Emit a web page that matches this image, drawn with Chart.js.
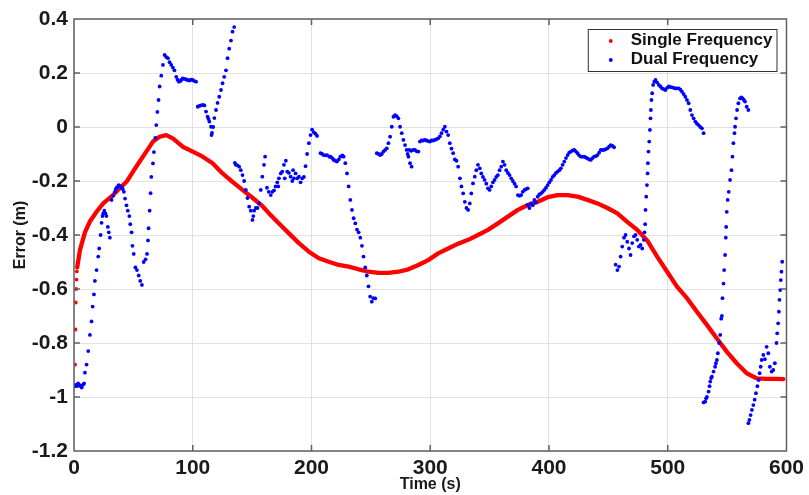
<!DOCTYPE html>
<html><head><meta charset="utf-8">
<script src="https://cdn.jsdelivr.net/npm/chart.js@4/dist/chart.umd.min.js"></script>
<style>html,body{margin:0;padding:0;background:#fff;} canvas{display:block;}</style>
</head><body>
<canvas id="c" width="809" height="495" style="width:809px;height:495px"></canvas>
<script>
const xTicks = [0, 100, 200, 300, 400, 500, 600];
const xTickLabels = ['0', '100', '200', '300', '400', '500', '600'];
const yTicks = [-1.2, -1, -0.8, -0.6, -0.4, -0.2, 0, 0.2, 0.4];
const yTickLabels = ['-1.2', '-1', '-0.8', '-0.6', '-0.4', '-0.2', '0', '0.2', '0.4'];
const seriesNames = ['Single Frequency', 'Dual Frequency'];
const xTitle = 'Time (s)';
const yTitle = 'Error (m)';

// [time (s), error (m)]
const singleFrequency = [
  [0.9,-0.88],[1.2,-0.75],[1.5,-0.65],[1.8,-0.60],[2.1,-0.565],[2.4,-0.535],
  [2.7,-0.52],[5.0,-0.456],[9.2,-0.39],[13.4,-0.35],[19.0,-0.314],[24.6,-0.283],[32.9,-0.252],
  [38.5,-0.227],[44.2,-0.203],[49.7,-0.165],[55.3,-0.128],[60.9,-0.091],[66.5,-0.054],[72.1,-0.036],
  [77.7,-0.03],[83.2,-0.042],[91.6,-0.073],[100,-0.091],[108.4,-0.11],[116.7,-0.134],[125.1,-0.172],
  [133.5,-0.203],[141.9,-0.233],[150.3,-0.262],[158,-0.29],[164.3,-0.32],[172.6,-0.357],[181,-0.394],
  [189.4,-0.43],[197.8,-0.462],[206.2,-0.486],[214.5,-0.499],[222.9,-0.511],[231.3,-0.517],[239.7,-0.527],
  [248,-0.536],[256.4,-0.54],[264.8,-0.54],[273.2,-0.536],[281.6,-0.527],[290,-0.511],[298.3,-0.493],
  [306.7,-0.468],[315.1,-0.45],[323.5,-0.432],[331.9,-0.418],[340.2,-0.40],[348.6,-0.381],[357,-0.357],
  [365.4,-0.332],[373.8,-0.307],[382.1,-0.289],[390.5,-0.277],[398.9,-0.26],[407.3,-0.252],[415.7,-0.252],
  [424,-0.258],[432.4,-0.27],[440.8,-0.283],[449.2,-0.30],[457.6,-0.32],[465.9,-0.351],[474.3,-0.381],
  [482.7,-0.42],[491.1,-0.48],[499.5,-0.536],[507.8,-0.591],[516.2,-0.634],[524.6,-0.684],[533,-0.733],
  [541.4,-0.783],[549.7,-0.832],[558.1,-0.875],[566.5,-0.912],[574.9,-0.931],[583.3,-0.933],[591.6,-0.933],
  [597.3,-0.934]
];
const singleDotCount = 6;

const dualFrequency = [
  [0.5,-0.96],[1.5,-0.955],[2.5,-0.96],[3.5,-0.95],[4.5,-0.955],[5.5,-0.96],[6.5,-0.965],[7.5,-0.955],[8.5,-0.95],
  [9.2,-0.91],[10.6,-0.88],[12.0,-0.83],[13.4,-0.77],[14.8,-0.72],[15.7,-0.665],[16.8,-0.62],[17.6,-0.57],
  [19.0,-0.53],[20.4,-0.48],[21.2,-0.45],[22.4,-0.40],[23.2,-0.355],[24.0,-0.33],[24.6,-0.32],[25.5,-0.31],
  [26.5,-0.32],[27.3,-0.33],[28.5,-0.37],[29.3,-0.39],[30.2,-0.41],
  [31.6,-0.27],[33.0,-0.255],[34.4,-0.24],[35.2,-0.23],[36.0,-0.225],[37.0,-0.22],[37.7,-0.215],[38.5,-0.22],
  [39.4,-0.22],[40.2,-0.225],[41.1,-0.23],[42.0,-0.24],[43.0,-0.265],[44.2,-0.29],[45.3,-0.31],[46.6,-0.33],
  [47.4,-0.36],[48.5,-0.39],[49.2,-0.44],[50.3,-0.47],[51.7,-0.52],[53.0,-0.53],[54.5,-0.55],[55.8,-0.57],
  [57.2,-0.585],[58.7,-0.50],[60.3,-0.49],[61.5,-0.47],[62.3,-0.42],[62.8,-0.375],[63.7,-0.31],[64.5,-0.245],
  [65.1,-0.185],[66.5,-0.135],[67.3,-0.093],[68.5,-0.04],[69.3,0.007],[70.2,0.056],[71.2,0.10],[72.1,0.15],
  [73.5,0.19],[74.9,0.23],[76.3,0.267],[77.5,0.26],[79.1,0.255],[80.5,0.24],[81.9,0.23],[83.3,0.22],[84.6,0.21],
  [86.1,0.186],[87.2,0.175],[88.3,0.168],[89.5,0.17],[90.5,0.175],[91.6,0.18],[93.0,0.178],[94.5,0.176],
  [95.8,0.174],[97.0,0.172],[98.5,0.175],[100.0,0.174],[101.5,0.17],[102.8,0.168],
  [104.2,0.075],[105.5,0.078],[107.0,0.08],[108.5,0.082],[109.8,0.08],[111.2,0.057],[112.5,0.038],[113.3,0.03],
  [114.0,0.02],[115.4,0.001],[115.8,-0.03],[116.2,-0.022],[117.2,0.0],[118.2,0.033],[119.6,0.063],[120.9,0.089],
  [122.3,0.112],[123.8,0.137],[125.1,0.162],[126.5,0.186],[128.0,0.21],[129.3,0.255],[130.7,0.29],[132.2,0.32],
  [133.5,0.353],[134.9,0.37],
  [135.5,-0.133],[136.3,-0.14],[137.7,-0.142],[139.1,-0.147],[140.5,-0.16],[141.9,-0.178],[143.3,-0.2],
  [144.7,-0.233],[146.1,-0.263],[147.5,-0.295],[148.9,-0.31],[150.3,-0.344],[151.0,-0.33],[151.7,-0.31],
  [153.1,-0.30],[154.5,-0.30],[155.9,-0.283],[157.3,-0.233],[158.6,-0.184],[160.0,-0.14],[160.9,-0.11],
  [162.5,-0.225],[164.0,-0.24],[165.7,-0.252],[167.0,-0.24],[168.4,-0.235],[169.8,-0.22],[171.2,-0.205],
  [172.0,-0.22],[172.6,-0.19],[174.1,-0.172],[175.4,-0.165],[176.8,-0.14],[177.5,-0.19],[178.4,-0.125],
  [179.6,-0.165],[181.0,-0.17],[182.4,-0.184],[183.8,-0.2],[184.5,-0.16],[185.2,-0.19],[186.6,-0.172],
  [188.0,-0.19],[189.4,-0.184],[190.8,-0.205],[192.2,-0.19],[193.6,-0.185],[195.0,-0.145],[196.3,-0.1],
  [197.8,-0.06],[199.2,-0.03],[200.5,-0.01],[202.0,-0.02],[203.4,-0.025],[204.7,-0.033],
  [207.6,-0.097],[209.0,-0.1],[210.3,-0.104],[212.0,-0.105],[213.1,-0.104],[215.0,-0.11],[216.0,-0.11],
  [217.5,-0.115],[218.7,-0.122],[220.0,-0.125],[221.5,-0.128],[223.0,-0.12],[224.3,-0.11],[226.0,-0.105],
  [227.1,-0.11],[228.5,-0.134],[229.9,-0.172],[231.3,-0.22],[232.7,-0.27],[234.1,-0.307],[235.5,-0.338],
  [236.9,-0.357],[238.3,-0.38],[239.7,-0.39],[241.1,-0.41],[242.5,-0.44],[243.8,-0.48],[245.3,-0.52],
  [246.6,-0.55],[248.0,-0.59],[249.4,-0.628],[250.8,-0.647],[252.2,-0.634],[253.7,-0.635],
  [255.0,-0.097],[256.5,-0.1],[257.9,-0.104],[259.2,-0.1],[260.6,-0.091],[262.0,-0.085],[263.4,-0.079],
  [264.8,-0.06],[266.2,-0.036],[267.6,0.001],[269.0,0.038],[270.4,0.044],[271.8,0.04],[273.2,0.032],
  [274.6,0.001],[276.0,-0.023],[277.4,-0.048],[278.8,-0.067],[280.1,-0.085],[281.0,-0.1],[281.6,-0.11],
  [283.0,-0.134],[284.3,-0.147],
  [282.5,-0.085],[284.0,-0.088],[285.7,-0.085],[287.2,-0.085],[288.6,-0.09],[290.0,-0.091],
  [291.3,-0.054],[292.7,-0.05],[294.1,-0.05],[295.5,-0.048],[297.0,-0.05],[298.3,-0.052],[299.7,-0.054],
  [301.1,-0.05],[302.5,-0.05],[303.9,-0.048],[305.3,-0.045],[306.7,-0.042],[308.1,-0.035],[309.5,-0.023],
  [310.9,-0.01],[312.3,0.001],[313.7,-0.017],[315.1,-0.03],[316.5,-0.06],[317.9,-0.08],[319.3,-0.097],
  [320.7,-0.12],[322.1,-0.125],[323.5,-0.147],[325.0,-0.19],[326.3,-0.22],[327.7,-0.246],[329.1,-0.277],
  [330.5,-0.30],[331.9,-0.307],[333.3,-0.283],[334.6,-0.246],[336.0,-0.209],[337.5,-0.184],[338.8,-0.16],
  [340.2,-0.14],[341.7,-0.153],[343.0,-0.172],[344.4,-0.185],[345.8,-0.196],[347.2,-0.21],[348.6,-0.227],
  [350.0,-0.233],[351.4,-0.22],[352.8,-0.205],[354.2,-0.196],[355.6,-0.185],[357.0,-0.178],[358.4,-0.16],
  [359.8,-0.147],[361.2,-0.128],[362.6,-0.14],[364.0,-0.16],[365.4,-0.17],[366.8,-0.178],[368.2,-0.19],
  [369.6,-0.2],[371.0,-0.21],[372.3,-0.22],
  [373.8,-0.252],[375.1,-0.255],[376.5,-0.252],[377.9,-0.24],[379.4,-0.233],[380.7,-0.23],[382.1,-0.227],
  [382.1,-0.289],[383.5,-0.3],[384.9,-0.283],[386.3,-0.29],[387.7,-0.27],[389.0,-0.28],[390.5,-0.258],
  [391.9,-0.25],[393.3,-0.246],[394.7,-0.24],[396.1,-0.233],[397.5,-0.225],[398.9,-0.215],[400.3,-0.205],
  [401.7,-0.196],[403.1,-0.185],[404.5,-0.178],[405.9,-0.17],[407.3,-0.165],[408.7,-0.16],[410.0,-0.153],
  [411.5,-0.14],[412.9,-0.128],[414.3,-0.115],[415.7,-0.104],[417.0,-0.095],[418.4,-0.091],[419.9,-0.087],
  [421.3,-0.085],[422.6,-0.09],[424.0,-0.097],[425.4,-0.105],[426.8,-0.11],[428.2,-0.11],[429.6,-0.11],
  [431.0,-0.113],[432.4,-0.116],[433.8,-0.12],[435.2,-0.122],[436.6,-0.115],[438.0,-0.11],[439.4,-0.108],
  [440.8,-0.104],[442.2,-0.095],[443.6,-0.085],[445.0,-0.085],[446.4,-0.085],[447.8,-0.082],[449.2,-0.079],
  [450.6,-0.073],[452.0,-0.067],[453.4,-0.07],[454.8,-0.075],
  [456.1,-0.51],[457.6,-0.53],[459.0,-0.517],[460.3,-0.48],[461.7,-0.443],[463.2,-0.41],[464.5,-0.40],
  [465.9,-0.425],[467.4,-0.45],[468.7,-0.474],[470.1,-0.43],[471.6,-0.405],[472.9,-0.40],[474.3,-0.418],
  [475.7,-0.443],[477.1,-0.437],[478.5,-0.45],[479.9,-0.418],[480.4,-0.39],[481.0,-0.36],[481.3,-0.307],
  [481.9,-0.258],[482.5,-0.215],[483.0,-0.172],[483.3,-0.134],[483.8,-0.091],[484.4,-0.054],[485.0,-0.011],
  [485.5,0.032],[485.8,0.063],[486.3,0.10],[486.9,0.125],[487.7,0.156],[488.7,0.168],[489.7,0.174],
  [491.0,0.165],[492.5,0.156],[493.9,0.15],[495.3,0.143],[496.7,0.14],[498.0,0.137],[499.5,0.145],
  [500.9,0.15],[502.3,0.148],[503.6,0.147],[505.0,0.145],[506.4,0.143],[507.8,0.143],[509.3,0.143],
  [510.7,0.138],[512.0,0.131],[513.4,0.122],[514.8,0.112],[516.2,0.1],[517.6,0.088],[519.0,0.063],
  [520.4,0.044],[521.8,0.032],[523.2,0.02],[524.6,0.012],[526.0,0.007],[527.4,0.0],[528.8,-0.005],[530.2,-0.023],
  [530.2,-1.02],[531.6,-1.017],[532.3,-1.005],[533.0,-1.0],[534.4,-0.98],[535.2,-0.96],[535.8,-0.943],
  [536.5,-0.93],[537.2,-0.925],[538.6,-0.906],[539.9,-0.888],[540.6,-0.875],[541.4,-0.863],[542.2,-0.838],
  [543.3,-0.80],[544.2,-0.77],[545.0,-0.71],[545.6,-0.70],[546.1,-0.634],[547.0,-0.58],[547.5,-0.53],
  [548.3,-0.474],[548.9,-0.41],[549.2,-0.37],[549.7,-0.314],[550.5,-0.27],[551.4,-0.24],[552.5,-0.196],
  [553.7,-0.16],[554.5,-0.11],[555.3,-0.06],[556.2,-0.023],[556.7,0.001],[557.5,0.032],[558.4,0.063],
  [559.5,0.088],[560.9,0.106],[562.0,0.11],[563.1,0.106],[564.1,0.1],[565.1,0.094],[566.5,0.075],[567.9,0.063],
  [567.9,-1.097],[568.8,-1.085],[569.8,-1.067],[570.9,-1.048],[572.1,-1.03],[573.2,-1.01],[574.3,-0.986],
  [575.5,-0.96],[576.6,-0.937],[577.4,-0.912],[578.3,-0.888],[579.1,-0.863],[580.5,-0.844],[581.8,-0.86],
  [583.3,-0.814],[584.7,-0.838],[586.0,-0.888],[587.5,-0.906],[588.9,-0.9],[590.2,-0.875],[591.6,-0.80],
  [592.2,-0.764],[593.0,-0.727],[593.6,-0.684],[594.1,-0.64],[594.7,-0.604],[595.2,-0.567],[595.8,-0.536],
  [596.4,-0.499]
];

const FONT = '"Liberation Sans", Arial, Helvetica, sans-serif';
Chart.defaults.font.family = FONT;
const toPoints = arr => arr.map(p => ({ x: p[0], y: p[1] }));

const framePlugin = {
  id: 'frameAndLegend',
  afterDraw(chart) {
    const ctx = chart.ctx, ca = chart.chartArea;
    const xs = chart.scales.x, ys = chart.scales.y;
    ctx.save();
    ctx.strokeStyle = '#606060';
    ctx.lineWidth = 1.5;
    ctx.strokeRect(ca.left, ca.top, ca.right - ca.left, ca.bottom - ca.top);
    const tl = 6;
    ctx.beginPath();
    xs.ticks.forEach(t => {
      const px = xs.getPixelForValue(t.value);
      if (px <= ca.left + 1 || px >= ca.right - 1) return;
      ctx.moveTo(px, ca.bottom); ctx.lineTo(px, ca.bottom - tl);
      ctx.moveTo(px, ca.top); ctx.lineTo(px, ca.top + tl);
    });
    ys.ticks.forEach(t => {
      const py = ys.getPixelForValue(t.value);
      if (py <= ca.top + 1 || py >= ca.bottom - 1) return;
      ctx.moveTo(ca.left, py); ctx.lineTo(ca.left + tl, py);
      ctx.moveTo(ca.right, py); ctx.lineTo(ca.right - tl, py);
    });
    ctx.stroke();

    // legend
    ctx.font = 'bold 17px ' + FONT;
    const labels = chart.data.datasets.map(d => d.label);
    const tw = Math.max(...labels.map(t => ctx.measureText(t).width));
    const boxRight = ca.right - 10, boxTop = ca.top + 10;
    const textLeft = boxRight - 4 - tw;
    const boxLeft = textLeft - 43;
    const boxH = 42;
    ctx.fillStyle = '#ffffff';
    ctx.fillRect(boxLeft, boxTop, boxRight - boxLeft, boxH);
    ctx.strokeStyle = '#333333';
    ctx.lineWidth = 1;
    ctx.strokeRect(boxLeft + 0.5, boxTop + 0.5, boxRight - boxLeft, boxH);
    const rowsDot = [12, 31], rowsText = [15.5, 35];
    chart.data.datasets.forEach((d, i) => {
      ctx.fillStyle = d.backgroundColor;
      ctx.beginPath();
      ctx.arc(boxLeft + 23, boxTop + rowsDot[i], 1.9, 0, Math.PI * 2);
      ctx.fill();
      ctx.fillStyle = '#111111';
      ctx.textBaseline = 'alphabetic';
      ctx.textAlign = 'left';
      ctx.fillText(d.label, textLeft, boxTop + rowsText[i]);
    });
    ctx.restore();
  }
};

new Chart(document.getElementById('c'), {
  type: 'scatter',
  data: {
    datasets: [
      {
        label: seriesNames[0],
        data: toPoints(singleFrequency),
        showLine: true,
        borderColor: '#ff0000',
        backgroundColor: '#ff0000',
        borderWidth: 4.3,
        borderJoinStyle: 'round',
        borderCapStyle: 'round',
        tension: 0,
        pointRadius: ctx => ctx.dataIndex < singleDotCount ? 1.9 : 0,
        pointBorderWidth: 0,
        segment: { borderColor: ctx => ctx.p0DataIndex < singleDotCount ? 'rgba(0,0,0,0)' : undefined },
        order: 2
      },
      {
        label: seriesNames[1],
        data: toPoints(dualFrequency),
        showLine: false,
        borderColor: '#0000ff',
        backgroundColor: '#0000ff',
        pointRadius: 1.9,
        pointBorderWidth: 0,
        order: 1
      }
    ]
  },
  options: {
    responsive: false,
    animation: false,
    events: [],
    layout: { padding: { left: 0, right: 20, top: 19, bottom: 0 } },
    plugins: { legend: { display: false }, tooltip: { enabled: false } },
    scales: {
      x: {
        type: 'linear', min: 0, max: 600,
        afterBuildTicks: s => { s.ticks = xTicks.map(v => ({ value: v })); },
        ticks: { autoSkip: false, maxRotation: 0, padding: 5, color: '#1a1a1a',
                 font: { size: 21, weight: 'bold' }, callback: (v, i) => xTickLabels[i] },
        grid: { color: '#e2e2e2', lineWidth: 1, drawTicks: false },
        border: { display: false },
        title: { display: true, text: xTitle, color: '#1a1a1a', font: { size: 16, weight: 'bold' }, padding: { top: 0, bottom: 1 } },
        afterFit: s => { s.height = 44; }
      },
      y: {
        type: 'linear', min: -1.2, max: 0.4,
        afterBuildTicks: s => { s.ticks = yTicks.map(v => ({ value: v })); },
        ticks: { autoSkip: false, padding: 6, color: '#1a1a1a',
                 font: { size: 21, weight: 'bold' }, callback: (v, i) => yTickLabels[i] },
        grid: { color: '#e2e2e2', lineWidth: 1, drawTicks: false },
        border: { display: false },
        title: { display: true, text: yTitle, color: '#1a1a1a', font: { size: 16, weight: 'bold' }, padding: { top: 11, bottom: 0 } },
        afterFit: s => { s.width = 74; }
      }
    }
  },
  plugins: [framePlugin]
});
</script>
</body></html>
